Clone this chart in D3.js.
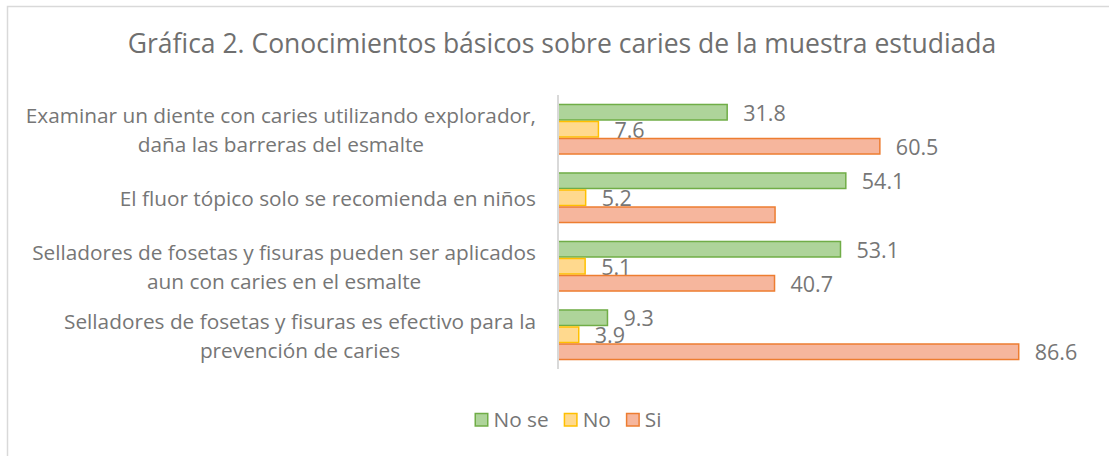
<!DOCTYPE html>
<html>
<head>
<meta charset="utf-8">
<script src="https://cdn.jsdelivr.net/npm/d3@7"></script>
<style>
  html, body { margin: 0; padding: 0; background: #fff; }
  svg { display: block; font-family: "Open Sans", "Noto Sans", sans-serif; }
</style>
</head>
<body>
<div id="chart"></div>
<script>
// chart data
const categories = [
  ["Examinar un diente con caries utilizando explorador,", "daña las barreras del esmalte"],
  ["El fluor tópico solo se recomienda en niños"],
  ["Selladores de fosetas y fisuras pueden ser aplicados", "aun con caries en el esmalte"],
  ["Selladores de fosetas y fisuras es efectivo para la", "prevención de caries"]
];
const seriesNames = ["No se", "No", "Si"];
const noSe = [31.8, 54.1, 53.1, 9.3];
const no = [7.6, 5.2, 5.1, 3.9];
const si = [60.5, 40.8, 40.7, 86.6];
// the Si label of the second category is not shown in the original
const siLabels = ["60.5", null, "40.7", "86.6"];
const title = "Gráfica 2. Conocimientos básicos sobre caries de la muestra estudiada";

const width = 1109, height = 456;
const plot = {left: 558, top: 95, bottom: 369};

const fills = ["#aed49a", "#ffd98e", "#f6b69d"];
const strokes = ["#70ad47", "#ffc000", "#ed7d31"];
const textColor = "#767676";

const svg = d3.select("#chart").append("svg")
  .attr("width", width)
  .attr("height", height);

// chart border
svg.append("rect")
  .attr("x", 7.5).attr("y", 6.5)
  .attr("width", width + 10).attr("height", height + 10)
  .attr("fill", "none")
  .attr("stroke", "#d9d9d9")
  .attr("stroke-width", 1.5);

// title
svg.append("text")
  .attr("x", 562)
  .attr("y", 53)
  .attr("text-anchor", "middle")
  .style("font-size", "26.5px")
  .style("fill", "#6f6f6f")
  .text(title);

// scales
const x = d3.scaleLinear()
  .domain([0, 100])
  .range([plot.left, plot.left + 532]);

const y = d3.scaleBand()
  .domain(d3.range(categories.length))
  .range([plot.top, plot.bottom])
  .paddingInner(0.255)
  .paddingOuter(0.1275);

const ySub = d3.scaleBand()
  .domain(d3.range(seriesNames.length))
  .range([0, y.bandwidth()]);

const values = [noSe, no, si];
const labels = [noSe.map(String), no.map(String), siLabels];

// bars
values.forEach((series, s) => {
  const rows = series.map((v, i) => ({v: v, i: i, label: labels[s][i]}));

  svg.append("g")
    .selectAll("rect")
    .data(rows)
    .enter()
    .append("rect")
    .attr("x", x(0))
    .attr("y", d => y(d.i) + ySub(s) + 0.75)
    .attr("width", d => x(d.v) - x(0))
    .attr("height", ySub.bandwidth() - 1.5)
    .attr("fill", fills[s])
    .attr("stroke", strokes[s])
    .attr("stroke-width", 1.5);

  svg.append("g")
    .selectAll("text")
    .data(rows.filter(d => d.label != null))
    .enter()
    .append("text")
    .attr("x", d => x(d.v) + 16)
    .attr("y", d => y(d.i) + ySub(s) + ySub.bandwidth() / 2 + 1)
    .attr("dy", "0.35em")
    .style("font-size", "21.5px")
    .style("fill", textColor)
    .text(d => d.label);
});

// vertical axis line
svg.append("line")
  .attr("x1", x(0)).attr("x2", x(0))
  .attr("y1", plot.top).attr("y2", plot.bottom)
  .attr("stroke", "#d9d9d9")
  .attr("stroke-width", 2);

// category labels: block right aligned, lines centered within the block
const lineHeight = 29;
categories.forEach((lines, i) => {
  const g = svg.append("g");
  const texts = lines.map(l => g.append("text")
    .style("font-size", "20.8px")
    .style("fill", textColor)
    .attr("text-anchor", "middle")
    .text(l));
  const maxW = d3.max(texts, t => t.node().getComputedTextLength());
  const cx = 536 - maxW / 2;
  const cy = y(i) + y.bandwidth() / 2;
  const firstY = cy - (lines.length - 1) * lineHeight / 2;
  texts.forEach((t, k) => t
    .attr("x", cx)
    .attr("y", firstY + k * lineHeight + 1)
    .attr("dy", "0.35em"));
});

// legend
const legend = svg.append("g");
let lx = 0;
seriesNames.forEach((name, s) => {
  const item = legend.append("g").attr("transform", `translate(${lx},0)`);
  item.append("rect")
    .attr("x", 0.75).attr("y", -6.5)
    .attr("width", 12.5).attr("height", 12.5)
    .attr("fill", fills[s])
    .attr("stroke", strokes[s])
    .attr("stroke-width", 1.5);
  const t = item.append("text")
    .attr("x", 19)
    .attr("dy", "0.35em")
    .style("font-size", "20.8px")
    .style("fill", textColor)
    .text(name);
  lx += 19 + t.node().getComputedTextLength() + 15;
});
legend.attr("transform", `translate(${568 - (lx - 15) / 2},420)`);
</script>
</body>
</html>
